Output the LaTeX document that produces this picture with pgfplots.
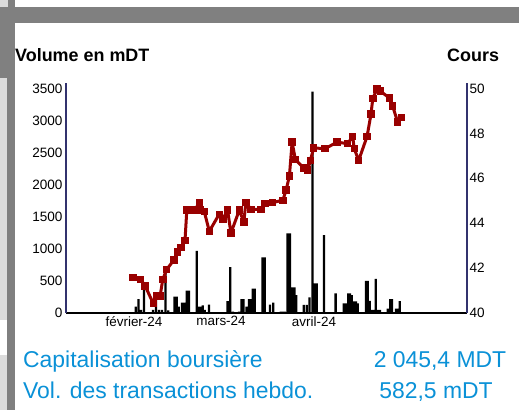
\documentclass[border=0pt]{standalone}
\usepackage{fontspec}
\setmainfont{Liberation Sans}
\usepackage{pgfplots}
\pgfplotsset{compat=1.18}
\definecolor{navyax}{RGB}{50,50,110}
\definecolor{dred}{RGB}{153,0,0}
\definecolor{cblue}{RGB}{10,145,215}
\definecolor{dgray}{RGB}{128,128,128}
\definecolor{lgray}{RGB}{220,220,220}
\begin{document}
\begin{tikzpicture}
\useasboundingbox (0,0) rectangle (519bp,410bp);
\fill[lgray] (0,0) rectangle (7bp,55bp);
\fill[lgray] (0,90bp) rectangle (7bp,332bp);
\fill[dgray] (7bp,0) rectangle (15bp,410bp);
\fill[dgray] (0,332bp) rectangle (15bp,403bp);
\fill[dgray] (0,387bp) rectangle (519bp,403bp);
\fill[lgray] (0,403bp) rectangle (8bp,410bp);
\begin{axis}[at={(66bp,97bp)}, anchor=south west, scale only axis,
  width=401bp, height=229.7bp,
  xmin=8.33, xmax=142, ymin=0, ymax=3580,
  axis y line*=left, axis x line*=bottom,
  x axis line style={-, draw=black, line width=2bp},
  y axis line style={-, draw=navyax, line width=1.5bp},
  ytick={0,500,...,3500}, xtick={31,60,91},
  xticklabels={février-24,mars-24,avril-24},
  major tick length=0pt, tick style={draw=none},
  yticklabel style={font=\fontsize{13.6}{15}\selectfont},
  xticklabel style={font=\fontsize{13.5}{15}\selectfont},
  /pgf/number format/assume math mode=true,
  /pgf/number format/1000 sep={},
]
\addplot[ybar, bar width=2.3bp, fill=black, draw=none] table {
x y
31.6 100
32.5 218
33.3 50
34.3 385
37.3 50
38.3 200
39.3 50
40.3 50
41.5 620
42.4 40
44.5 254
45.2 254
45.9 100
47.0 160
47.7 160
48.6 347
49.3 347
51.9 969
52.6 100
53.3 100
53.9 120
54.6 50
56.0 130
58.8 15
59.5 15
60.2 15
61.0 15
61.7 15
62.2 187
63.1 715
64.0 20
66.0 20
66.8 218
67.5 218
68.5 100
69.3 218
70.0 218
70.6 378
71.2 378
73.8 866
74.6 866
76.3 130
77.4 160
79.9 20
80.6 20
81.2 20
82.2 1240
83.0 1240
83.8 400
84.5 400
85.1 280
85.9 15
86.6 15
87.6 125
88.6 125
89.5 244
90.5 3450
91.2 462
91.9 462
94.3 1213
98.2 306
100.9 150
101.6 150
102.4 306
103.0 306
103.6 280
104.4 180
105.0 180
105.6 150
108.3 502
108.9 502
109.6 190
110.3 50
111.0 50
111.6 530
112.3 50
113.0 50
115.6 70
116.4 218
117.0 218
118.3 70
118.9 70
119.6 187
};
\end{axis}
\begin{axis}[at={(66bp,97bp)}, anchor=south west, scale only axis,
  width=401bp, height=229.7bp,
  xmin=8.33, xmax=142, ymin=40, ymax=50.23,
  axis y line*=right, axis x line=none,
  y axis line style={-, draw=navyax, line width=1.5bp},
  ytick={40,42,...,50},
  major tick length=0pt, tick style={draw=none},
  yticklabel style={font=\fontsize{13.6}{15}\selectfont, inner sep=2.5bp},
  /pgf/number format/assume math mode=true,
]
\addplot[dred, line width=3bp, line join=round, mark=square*, mark size=3.2bp, mark options={solid, fill=dred, draw=dred, line width=0pt}] table {
x y
30.6 41.57
33.2 41.50
34.7 41.21
37.4 40.43
38.6 40.76
39.7 40.76
40.6 41.50
41.9 41.94
44.3 42.36
45.4 42.72
46.7 42.92
48.0 43.24
48.6 44.58
51.3 44.58
52.8 44.93
53.0 44.58
54.4 44.53
56.1 43.64
59.4 44.40
60.6 44.18
62.2 44.58
63.3 43.56
66.1 44.58
67.6 44.06
68.3 44.92
70.0 44.61
73.3 44.61
74.7 44.87
77.2 44.92
80.6 45.02
81.7 45.47
82.8 46.10
83.7 47.61
84.8 46.83
87.6 46.46
88.9 46.36
89.8 46.80
90.9 47.35
94.7 47.32
98.7 47.61
102.2 47.54
103.9 47.87
104.4 47.32
105.9 46.80
108.7 47.87
110.0 48.86
110.6 49.56
112.0 49.97
113.1 49.88
116.1 49.58
117.2 49.22
118.9 48.50
120.2 48.70
};
\end{axis}
\node[anchor=base west, font=\bfseries\fontsize{18}{20}\selectfont, inner sep=0] at (15bp,348bp) {Volume en mDT};
\node[anchor=base west, font=\bfseries\fontsize{18}{20}\selectfont, inner sep=0] at (447bp,348.5bp) {Cours};
\node[anchor=base west, text=cblue, font=\fontsize{23}{25}\selectfont, inner sep=0] at (23bp,42.3bp) {Capitalisation boursière};
\node[anchor=base, text=cblue, font=\fontsize{23}{25}\selectfont, inner sep=0] at (440bp,42.3bp) {2 045,4 MDT};
\node[anchor=base west, text=cblue, font=\fontsize{23}{25}\selectfont, inner sep=0] at (23bp,11.7bp) {Vol. des transactions hebdo.};
\node[anchor=base, text=cblue, font=\fontsize{23}{25}\selectfont, inner sep=0] at (436bp,11.7bp) {582,5 mDT};
\end{tikzpicture}
\end{document}
